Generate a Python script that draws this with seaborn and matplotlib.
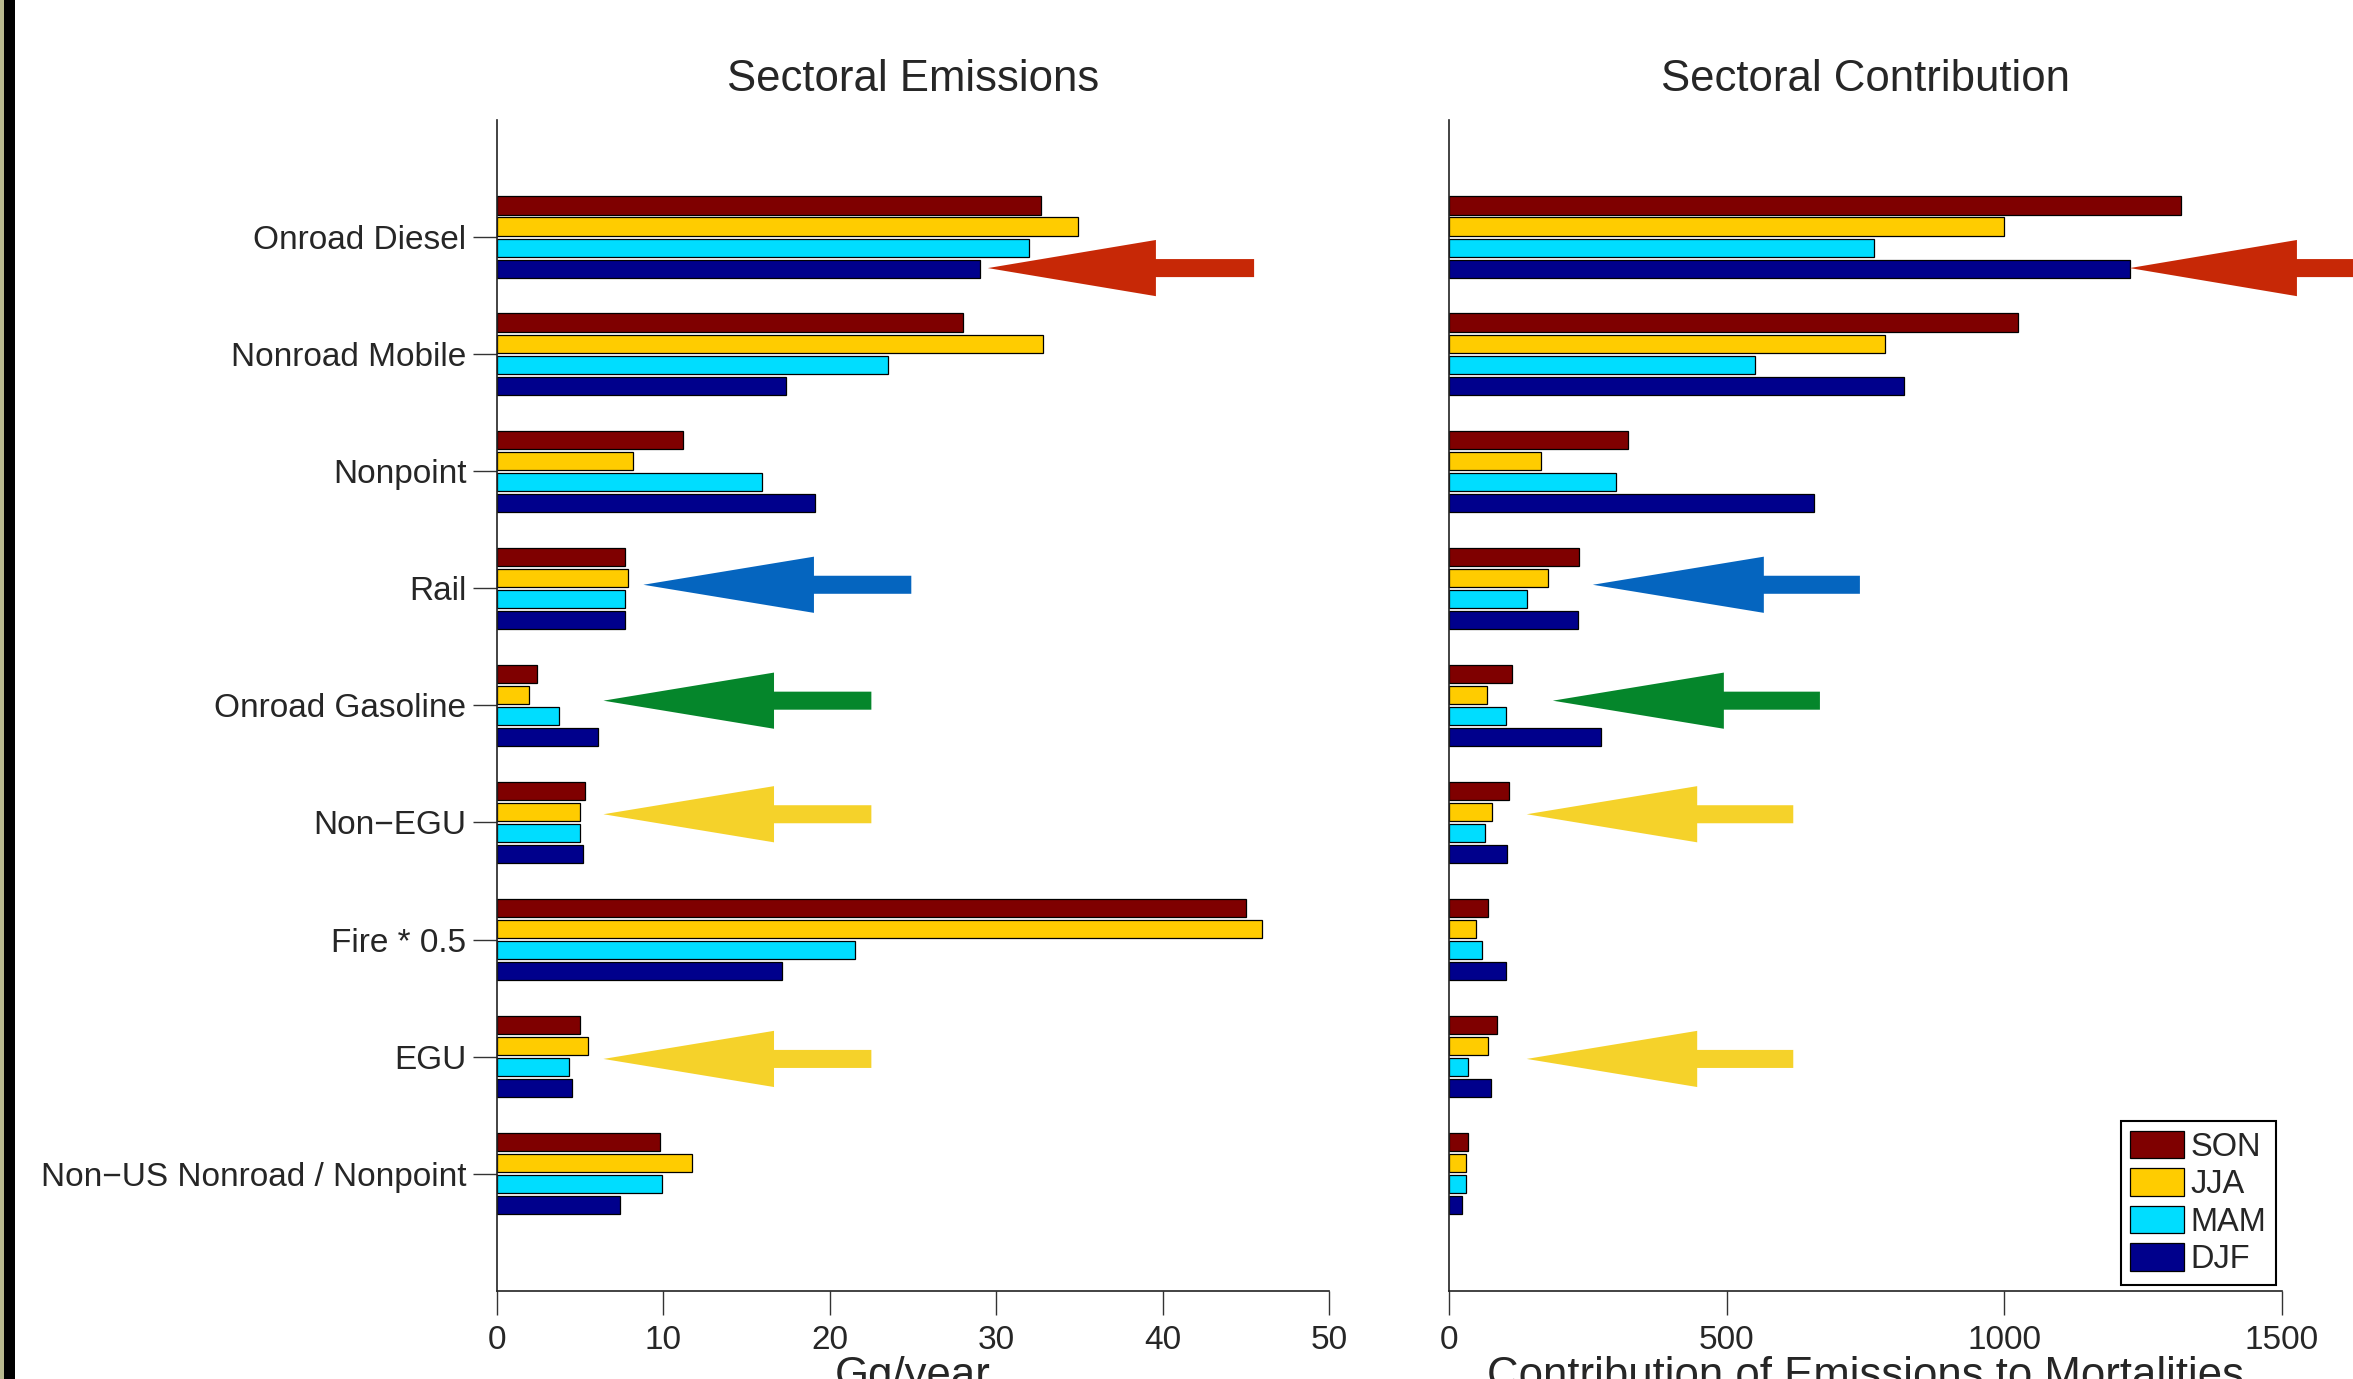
import pandas as pd
import numpy as np
import matplotlib
matplotlib.use('Agg')
import matplotlib.pyplot as plt
from matplotlib.patches import Polygon, Patch, Rectangle
import seaborn as sns

# Data
sectors = ['Onroad Diesel', 'Nonroad Mobile', 'Nonpoint', 'Rail', 'Onroad Gasoline',
           'Non\u2212EGU', 'Fire * 0.5', 'EGU', 'Non\u2212US Nonroad / Nonpoint']
seasons = ['SON', 'JJA', 'MAM', 'DJF']
season_colors = ['#7F0000', '#FFCC00', '#00DDFF', '#00008C']

# Sectoral emissions (Gg/year)
emis_son = [32.7, 28.0, 11.2, 7.7, 2.4, 5.3, 45.0, 5.0, 9.8]
emis_jja = [34.9, 32.8, 8.2, 7.9, 1.9, 5.0, 46.0, 5.5, 11.7]
emis_mam = [32.0, 23.5, 15.9, 7.7, 3.7, 5.0, 21.5, 4.3, 9.9]
emis_djf = [29.0, 17.4, 19.1, 7.7, 6.1, 5.2, 17.1, 4.5, 7.4]

# Contribution of emissions to mortalities
contr_son = [1319, 1024, 322, 235, 114, 108, 70, 86, 35]
contr_jja = [1000, 786, 165, 178, 68, 78, 49, 70, 30]
contr_mam = [765, 551, 300, 141, 103, 65, 59, 35, 30]
contr_djf = [1227, 819, 657, 232, 273, 105, 103, 76, 24]

# Highlight arrows: colour, y position, (tip, head base, tail) for each panel
arrow_colors = ['#C72806', '#0565BF', '#05862B', '#F5D22A', '#F5D22A']
arrow_y = [0.265, 2.97, 3.96, 4.93, 7.02]
arrow_left = [(29.5, 39.6, 45.5), (8.8, 19.05, 24.9), (6.4, 16.65, 22.5),
              (6.4, 16.65, 22.5), (6.4, 16.65, 22.5)]
arrow_right = [(1226, 1527, 1702), (259, 567, 740), (187, 495, 668),
               (140, 447, 620), (140, 447, 620)]


def long_table(vals):
    rows = []
    for s, v in zip(seasons, vals):
        for sec, x in zip(sectors, v):
            rows.append({'sector': sec, 'season': s, 'value': x})
    return pd.DataFrame(rows)


df_emis = long_table([emis_son, emis_jja, emis_mam, emis_djf])
df_contr = long_table([contr_son, contr_jja, contr_mam, contr_djf])

sns.set_style('white')
plt.rcParams['font.family'] = ['Liberation Sans', 'DejaVu Sans']

fig = plt.figure(figsize=(23.53, 13.79), dpi=100)
ax1 = fig.add_axes([0.2112, 0.064, 0.3536, 0.849])
ax2 = fig.add_axes([0.6158, 0.064, 0.3540, 0.849])


def draw_arrow(ax, y, tip, base, tail, color):
    hh, sh = 0.24, 0.077
    pts = [(tip, y), (base, y - hh), (base, y - sh), (tail, y - sh),
           (tail, y + sh), (base, y + sh), (base, y + hh)]
    ax.add_patch(Polygon(pts, closed=True, facecolor=color, edgecolor='none',
                         clip_on=False, zorder=5))


for ax, df, xmax, step, title, xlabel, arrows in [
        (ax1, df_emis, 50, 10, 'Sectoral Emissions', 'Gg/year', arrow_left),
        (ax2, df_contr, 1500, 500, 'Sectoral Contribution',
         'Contribution of Emissions to Mortalities', arrow_right)]:
    sns.barplot(data=df, x='value', y='sector', hue='season', hue_order=seasons,
                palette=season_colors, saturation=1, orient='h', width=0.72, gap=0.14,
                edgecolor='black', linewidth=0.9, errorbar=None, legend=False, ax=ax)
    ax.set_xlim(0, xmax)
    ax.set_ylim(9, -1)
    ax.set_xticks(np.arange(0, xmax + 1, step))
    ax.set_title(title, fontsize=31.5, pad=21)
    ax.set_xlabel(xlabel, fontsize=31.5, labelpad=0)
    ax.set_ylabel('')
    for sp in ['top', 'right']:
        ax.spines[sp].set_visible(False)
    for sp in ['left', 'bottom']:
        ax.spines[sp].set_color('#222222')
        ax.spines[sp].set_linewidth(1.2)
    ax.tick_params(axis='x', direction='out', length=17, width=1, color='#333333',
                   labelsize=24, pad=8, bottom=True)
    for col, y, (tip, base, tail) in zip(arrow_colors, arrow_y, arrows):
        draw_arrow(ax, y, tip, base, tail, col)

ax1.tick_params(axis='y', direction='out', length=17, width=1, color='#333333',
                labelsize=24, pad=5, left=True)
ax2.tick_params(axis='y', length=0, labelleft=False)

handles = [Patch(facecolor=c, edgecolor='black', linewidth=0.9) for c in season_colors]
leg = ax2.legend(handles, seasons, loc='lower right', fontsize=23.5, frameon=True,
                 fancybox=False, framealpha=1, edgecolor='black', borderaxespad=0.17,
                 borderpad=0.3, handletextpad=0.2, labelspacing=0.17,
                 handlelength=1.65, handleheight=0.92)
leg.get_frame().set_linewidth(1.5)

# dark strip at the left edge of the screenshot
fig.patches.append(Rectangle((0, 0), 4 / 2353, 1, transform=fig.transFigure,
                             facecolor='#B9B98E', edgecolor='none'))
fig.patches.append(Rectangle((4 / 2353, 0), 11 / 2353, 1, transform=fig.transFigure,
                             facecolor='black', edgecolor='none'))

fig.savefig('out.png', dpi=100)
